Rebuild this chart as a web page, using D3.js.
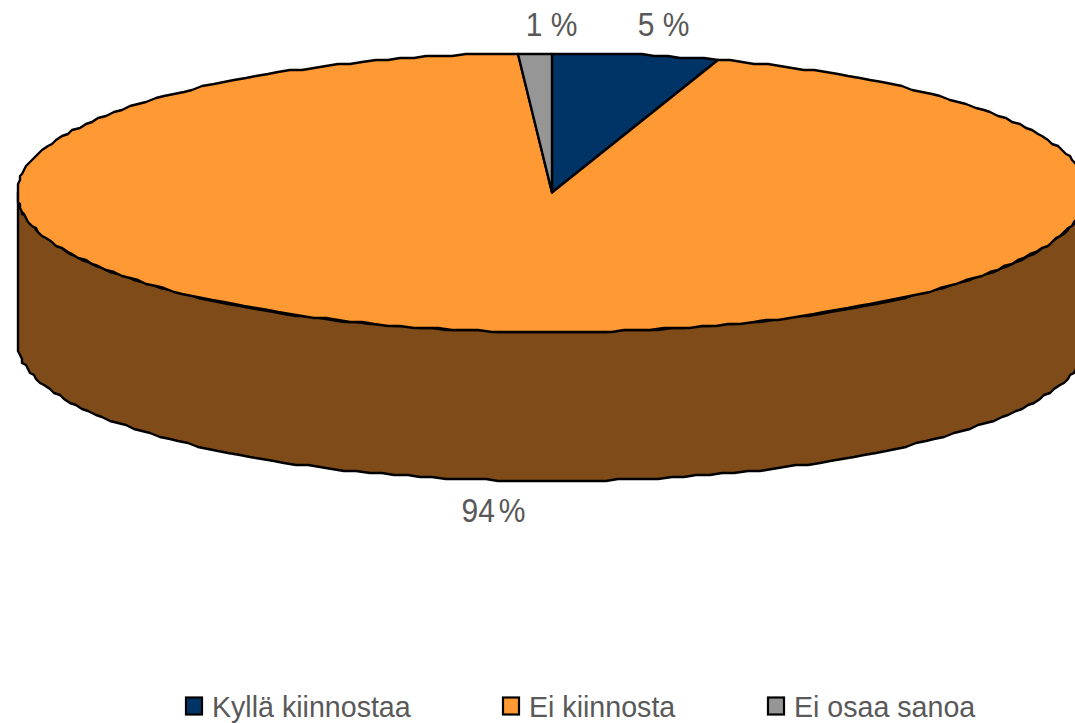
<!DOCTYPE html>
<html>
<head>
<meta charset="utf-8">
<script src="https://cdnjs.cloudflare.com/ajax/libs/d3/7.8.5/d3.min.js"></script>
<style>
  html, body { margin: 0; padding: 0; background: #fff; overflow: hidden; }
  text { font-family: "Liberation Sans", Arial, sans-serif; fill: #595959; }
</style>
</head>
<body>
<svg id="chart"></svg>
<script>
// Chart data
const categories = ["Kyllä kiinnostaa", "Ei kiinnosta", "Ei osaa sanoa"];
const values = [5, 94, 1];
const valueLabels = ["5 %", "94%", "1 %"];
const colors = ["#003366", "#FF9933", "#969696"];
const wallColor = "#7F4C19";

const width = 1075, height = 723;
const depth = 149;

// Label and legend placement
const labelPos = [[663.5, 35.5], [493.5, 522], [551.5, 35.5]];
const labelDx = ["0", "0 0 4", "0"];
const legendX = [185, 502, 767];

const svg = d3.select("#chart")
  .attr("width", width)
  .attr("height", height);

// Unit circle -> tilted disc on screen
const xScale = d3.scaleLinear().domain([-1, 1]).range([17, 1087]);
const yScale = d3.scaleLinear().domain([-1, 1]).range([53, 332]);

const pie = d3.pie().sort(null).value(d => d);
const arcs = pie(values);

// The outline of the original is slightly faceted, so snap the samples to a coarse grid
const snap = v => Math.round(v / 2) * 2;
const rim = a => [snap(xScale(Math.sin(a))), snap(yScale(-Math.cos(a)))];

function rimPoints(a0, a1) {
  const n = Math.max(1, Math.ceil(Math.abs(a1 - a0) / 0.025));
  return d3.range(n + 1).map(i => rim(a0 + (a1 - a0) * i / n));
}

const line = d3.line();

// Side wall, front half of the disc only
const front = rimPoints(Math.PI / 2, Math.PI * 3 / 2);
const wall = front.concat(front.slice().reverse().map(p => [p[0], p[1] + depth]));
svg.append("path")
  .attr("d", line(wall) + "Z")
  .attr("fill", wallColor)
  .attr("stroke", "#000")
  .attr("stroke-width", 2.4)
  .attr("stroke-linejoin", "round");

// Top slices
const cx = xScale(0), cy = yScale(0);
svg.selectAll(".slice")
  .data(arcs)
  .enter()
  .append("path")
  .attr("class", "slice")
  .attr("d", d => line([[cx, cy]].concat(rimPoints(d.startAngle, d.endAngle))) + "Z")
  .attr("fill", (d, i) => colors[i])
  .attr("stroke", "#000")
  .attr("stroke-width", 2.4)
  .attr("stroke-linejoin", "round");

// Value labels, the original glyphs are a bit taller than wide
svg.selectAll(".value-label")
  .data(valueLabels)
  .enter()
  .append("text")
  .attr("class", "value-label")
  .attr("transform", (d, i) => `translate(${labelPos[i][0]},${labelPos[i][1]}) scale(1,1.1)`)
  .attr("dx", (d, i) => labelDx[i])
  .attr("text-anchor", "middle")
  .attr("font-size", 30)
  .text(d => d);

// Legend
const legend = svg.append("g");
categories.forEach((name, i) => {
  legend.append("rect")
    .attr("x", legendX[i] + 1)
    .attr("y", 697.5)
    .attr("width", 16)
    .attr("height", 17)
    .attr("fill", colors[i])
    .attr("stroke", "#000")
    .attr("stroke-width", 2.2);

  legend.append("text")
    .attr("x", legendX[i] + 27)
    .attr("y", 717)
    .attr("font-size", 28.6)
    .text(name);
});
</script>
</body>
</html>
